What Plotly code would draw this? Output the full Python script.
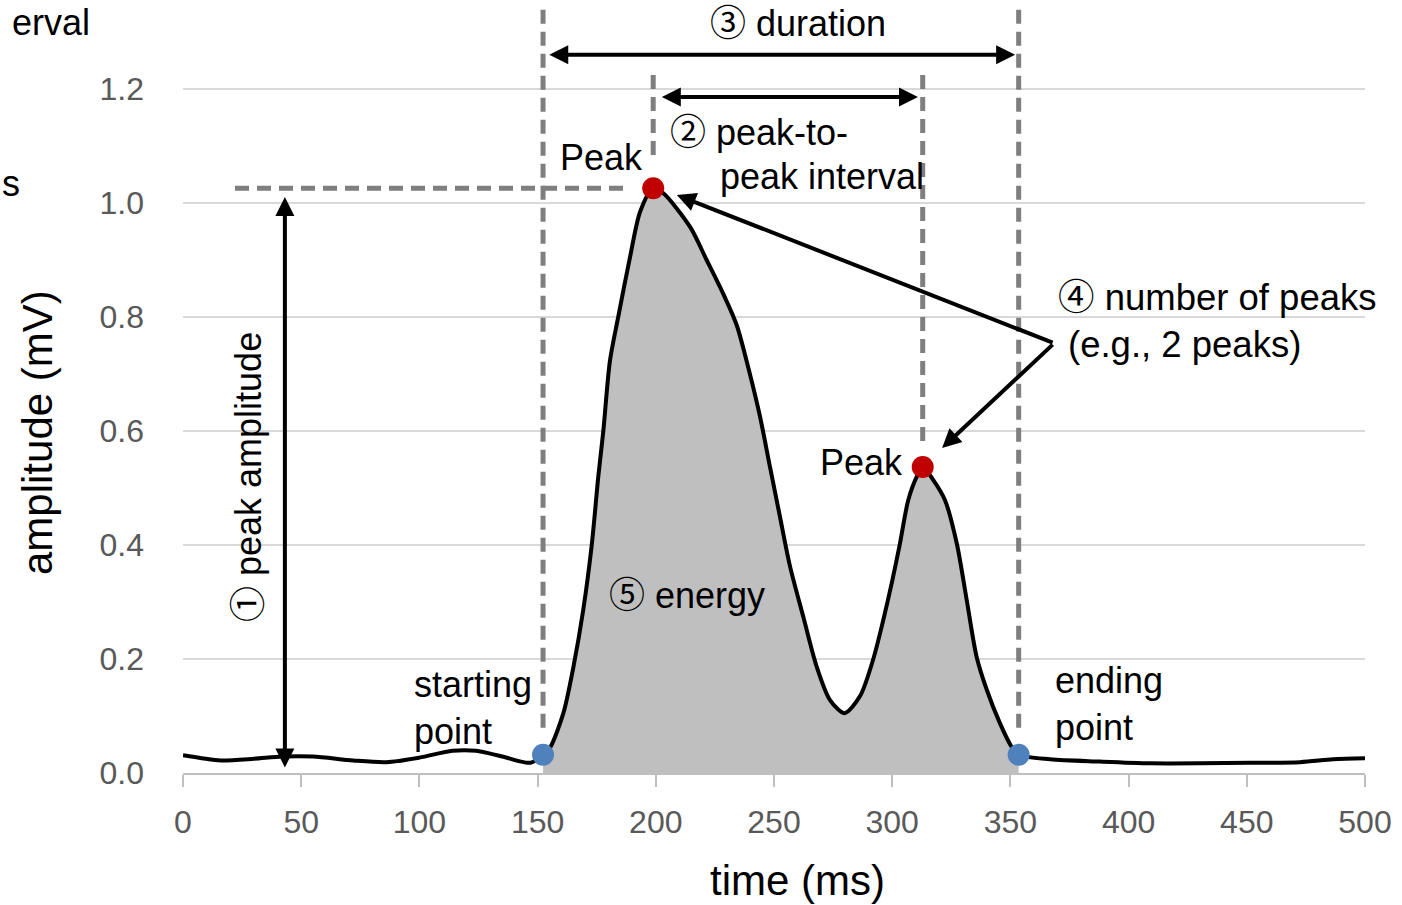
import plotly.graph_objects as go

# ---------------- data ----------------
time_ms = [0, 8, 16, 30, 42, 55, 72, 86, 100, 114, 124, 135, 147, 152.3,
           155.2, 160.9, 165.1, 169.3, 172.9, 175.7, 177.8, 180.6, 184.1, 189.1, 193.4, 198.9,
           203.2, 214.5, 221.5, 228.6, 234.2, 239.8, 244.1, 248.3, 252.5, 256.8, 262.4, 268.1,
           273.7, 279.8, 286.4, 292, 296.2, 299.8, 303.3, 306.8, 310.4, 312.9,
           317.4, 322.3, 327.3, 331.5, 335.7, 340, 345.6, 350.5, 353.5,
           366.8, 387.9, 409, 430.2, 451.4, 472.5, 486.5, 500]
amplitude_mv = [0.031, 0.026, 0.022, 0.025, 0.029, 0.029, 0.022, 0.019, 0.027, 0.039, 0.039, 0.029, 0.018, 0.032,
                0.044, 0.105, 0.185, 0.286, 0.400, 0.521, 0.600, 0.723, 0.800, 0.905, 0.985, 1.026,
                1.017, 0.958, 0.900, 0.840, 0.786, 0.700, 0.625, 0.537, 0.450, 0.362, 0.274, 0.186,
                0.128, 0.105, 0.135, 0.200, 0.268, 0.333, 0.403, 0.479, 0.520, 0.537,
                0.514, 0.479, 0.403, 0.304, 0.204, 0.146, 0.087, 0.046, 0.032,
                0.024, 0.020, 0.017, 0.017, 0.018, 0.019, 0.024, 0.026]
start_ms = 152.3
end_ms = 353.5
x_ticks = [0, 50, 100, 150, 200, 250, 300, 350, 400, 450, 500]
y_ticks = [0.0, 0.2, 0.4, 0.6, 0.8, 1.0, 1.2]
y_tick_text = ["0.0", "0.2", "0.4", "0.6", "0.8", "1.0", "1.2"]

# derived points
i_start = time_ms.index(start_ms)
i_end = time_ms.index(end_ms)
i_pk1 = max(range(len(amplitude_mv)), key=lambda i: amplitude_mv[i])
i_pk2 = max([i for i in range(len(time_ms)) if time_ms[i] > 290], key=lambda i: amplitude_mv[i])
pk1_x, pk1_y = time_ms[i_pk1], amplitude_mv[i_pk1]
pk2_x, pk2_y = time_ms[i_pk2], amplitude_mv[i_pk2]
st_x, st_y = time_ms[i_start], amplitude_mv[i_start]
en_x, en_y = time_ms[i_end], amplitude_mv[i_end]

# ---------------- layout geometry ----------------
W, H = 1402, 905
ML, MR, MT, MB = 183, 37, 0, 132
PW, PH = W - ML - MR, H - MT - MB
Y_TOP = 773 / 570.0

FONT = "Arial, 'Liberation Sans', 'Noto Sans CJK JP', sans-serif"


def px2paper_x(p):
    return (p - ML) / PW


def px2paper_y(p):
    return (MT + PH - p) / PH


fig = go.Figure()

# energy fill
fig.add_trace(go.Scatter(
    x=time_ms[i_start:i_end + 1], y=amplitude_mv[i_start:i_end + 1],
    mode="lines", line=dict(width=0, shape="spline", smoothing=0.8),
    fill="tozeroy", fillcolor="#bfbfbf", hoverinfo="skip", showlegend=False))

# signal line
fig.add_trace(go.Scatter(
    x=time_ms, y=amplitude_mv, mode="lines",
    line=dict(color="black", width=4, shape="spline", smoothing=0.8),
    showlegend=False))

# start / end points
fig.add_trace(go.Scatter(
    x=[st_x, en_x], y=[st_y, en_y], mode="markers",
    marker=dict(color="#4f81bd", size=22), showlegend=False))
# peaks
fig.add_trace(go.Scatter(
    x=[pk1_x, pk2_x], y=[pk1_y, pk2_y], mode="markers",
    marker=dict(color="#c00000", size=22), showlegend=False))

# dashed guide lines
dash_style = dict(color="#7f7f7f", width=5, dash="14px,8px")
shapes = [
    dict(type="line", xref="x", yref="y", x0=st_x, x1=st_x, y0=1.339, y1=st_y + 0.035, line=dash_style),
    dict(type="line", xref="x", yref="y", x0=en_x, x1=en_x, y0=1.339, y1=en_y + 0.035, line=dash_style),
    dict(type="line", xref="x", yref="y", x0=pk1_x, x1=pk1_x, y0=1.2246, y1=pk1_y + 0.047, line=dash_style),
    dict(type="line", xref="x", yref="y", x0=pk2_x, x1=pk2_x, y0=1.2246, y1=pk2_y + 0.035, line=dash_style),
    dict(type="line", xref="x", yref="y", x0=22, x1=pk1_x - 11, y0=pk1_y, y1=pk1_y, line=dash_style),
]
fig.update_layout(shapes=shapes)

annotations = []


def arrow(x0, y0, x1, y1, both=False):
    a = dict(xref="x", yref="y", axref="x", ayref="y", x=x1, y=y1, ax=x0, ay=y0,
             text="", showarrow=True, arrowhead=2, arrowsize=0.95, arrowwidth=4,
             arrowcolor="black", standoff=0, startstandoff=0)
    if both:
        a.update(arrowside="end+start", startarrowhead=2, startarrowsize=0.95)
    annotations.append(a)


# ③ duration
arrow(st_x + 2, 1.26, en_x - 1.5, 1.26, both=True)
# ② peak-to-peak interval
arrow(pk1_x + 3, 1.186, pk2_x - 2, 1.186, both=True)
# ① peak amplitude
arrow(43.1, 0.007, 43.1, 1.0105, both=True)
# ④ number of peaks
vx, vy = 368.5, 0.754
arrow(vx, vy, pk1_x + 10, pk1_y - 0.012)
arrow(vx, vy, pk2_x + 8.2, pk2_y + 0.033)


def text(t, x, y, xanchor="left", size=36, angle=0, color="black", align="left", yanchor="middle"):
    annotations.append(dict(xref="paper", yref="paper", x=px2paper_x(x), y=px2paper_y(y),
                            text=t, showarrow=False, xanchor=xanchor, yanchor=yanchor,
                            textangle=angle, align=align,
                            font=dict(family=FONT, size=size, color=color)))


text("③ duration", 798, 24, xanchor="center")
text("② peak-to-", 668, 133)
text("peak interval", 718, 176)
text("Peak", 645, 157, xanchor="right")
text("Peak", 905, 462, xanchor="right")
text("④ number of peaks", 1056, 297, size=36.5)
text("(e.g., 2 peaks)", 1066, 345, size=36.5)
text("⑤ energy", 607, 595)
text("starting<br>point", 412, 708)
text("ending<br>point", 1053, 704)
text("① peak amplitude", 248, 477, xanchor="center", angle=-90)
text("erval", 92, 0, xanchor="right", yanchor="top")
text("s", 0, 183, xanchor="left")
# axis titles
text("amplitude (mV)", 37, 433, xanchor="center", size=42, angle=-90)
text("time (ms)", 797, 880, xanchor="center", size=42)

fig.update_layout(annotations=annotations)

fig.update_layout(
    width=W, height=H, autosize=False,
    margin=dict(l=ML, r=MR, t=MT, b=MB, pad=0),
    paper_bgcolor="white", plot_bgcolor="white",
    font=dict(family=FONT),
    xaxis=dict(range=[0, 500], tickvals=x_ticks, showgrid=False, zeroline=False,
               showline=True, linecolor="#bfbfbf", linewidth=2,
               ticks="outside", ticklen=12, tickwidth=2, tickcolor="#bfbfbf",
               tickfont=dict(family=FONT, size=32, color="#595959"),
               ticklabelstandoff=8, fixedrange=True),
    yaxis=dict(range=[0, Y_TOP], tickvals=y_ticks, ticktext=y_tick_text,
               showgrid=True, gridcolor="#d9d9d9", gridwidth=2, zeroline=False,
               showline=False, ticks="",
               tickfont=dict(family=FONT, size=32, color="#595959"),
               ticklabelstandoff=38, fixedrange=True),
)

fig.write_html("out.html")
